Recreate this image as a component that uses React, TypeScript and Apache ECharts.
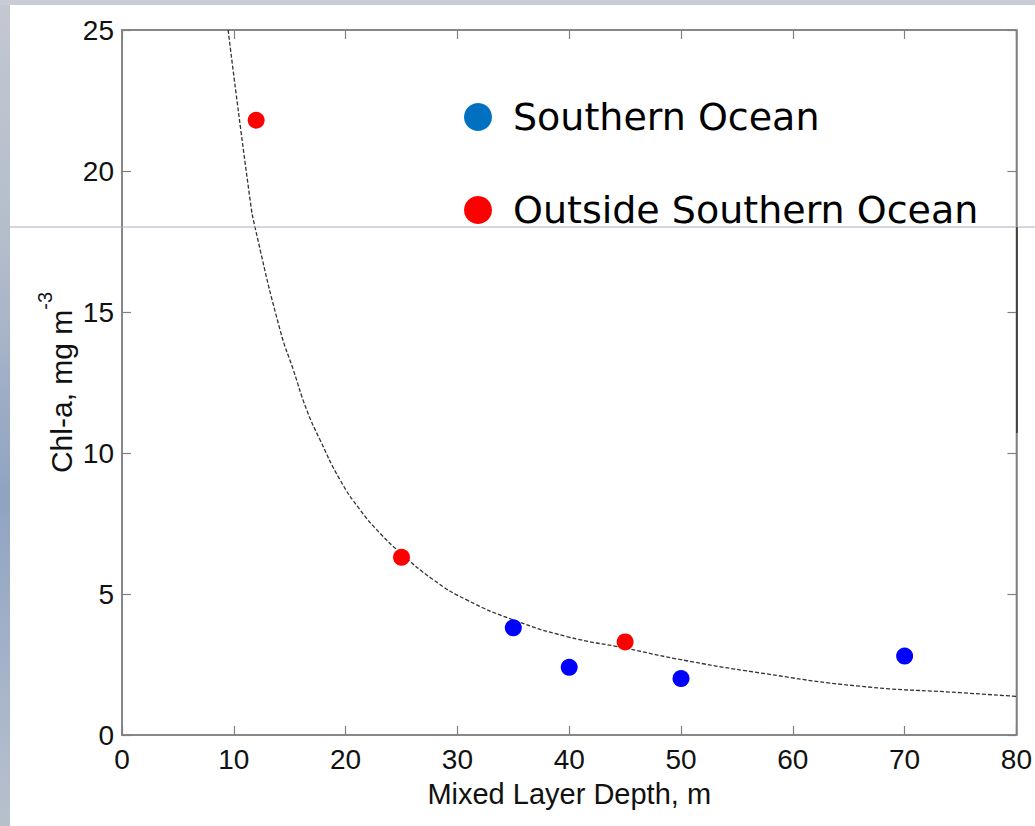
import React, { useEffect, useRef } from "react";
import * as echarts from "echarts";

const southernOcean: [number, number][] = [
  [35, 3.8],
  [40, 2.4],
  [50, 2.0],
  [70, 2.8],
];
const outsideSouthernOcean: [number, number][] = [
  [12, 21.8],
  [25, 6.3],
  [45, 3.3],
];
// fitted curve
const fitCurve: [number, number][] = [
  [9.49, 25],
  [11.45, 19.0],
  [11.9, 18.0],
  [14.14, 14.36],
  [15.33, 12.94],
  [16.53, 11.52],
  [17.72, 10.46],
  [19.51, 9.04],
  [21.3, 7.98],
  [23.09, 7.15],
  [24.88, 6.47],
  [27.86, 5.5],
  [30.84, 4.79],
  [35.02, 4.08],
  [39.79, 3.49],
  [45.16, 3.07],
  [49.6, 2.7],
  [57.1, 2.2],
  [66, 1.73],
  [75, 1.5],
  [80, 1.37],
];
const xTicks = [0, 80, 10];
const yTicks = [0, 25, 5];

export default function App() {
  const ref = useRef<HTMLDivElement>(null);
  useEffect(() => {
    if (!ref.current) return;
    const chart = echarts.init(ref.current, null, { renderer: "svg" });
    const axisColor = "#808080";
    const font = "'Liberation Sans', Arial, sans-serif";
    const commonAxis = {
      axisLine: { show: true, onZero: false, lineStyle: { color: axisColor, width: 1.5 } },
      axisTick: { show: true, inside: true, length: 9, lineStyle: { color: axisColor, width: 1.2 } },
      splitLine: { show: false },
    };
    chart.setOption({
      animation: false,
      backgroundColor: "#ffffff",
      grid: {
        left: 122,
        right: 18.5,
        top: 30,
        bottom: 91,
        show: true,
        borderColor: axisColor,
        borderWidth: 1.5,
        backgroundColor: "transparent",
      },
      legend: {
        orient: "vertical",
        left: 464,
        top: 98,
        padding: 0,
        itemWidth: 28,
        itemHeight: 28,
        itemGap: 55,
        icon: "circle",
        textStyle: {
          fontFamily: "'DejaVu Sans', sans-serif",
          fontSize: 38,
          color: "#000",
          padding: [0, 0, 0, 16],
        },
        data: [
          { name: "Southern Ocean", itemStyle: { color: "#0070c0" } },
          { name: "Outside Southern Ocean", itemStyle: { color: "#ff0000" } },
        ],
      },
      xAxis: [
        {
          type: "value",
          min: xTicks[0],
          max: xTicks[1],
          interval: xTicks[2],
          position: "bottom",
          ...commonAxis,
          axisLabel: { margin: 10, fontSize: 28, color: "#111", fontFamily: font },
          name: "Mixed Layer Depth, m",
          nameLocation: "middle",
          nameGap: 44,
          nameMoveOverlap: false,
          nameTextStyle: { fontSize: 29, color: "#111", fontFamily: font },
        },
        {
          type: "value",
          min: xTicks[0],
          max: xTicks[1],
          interval: xTicks[2],
          position: "top",
          ...commonAxis,
          axisLabel: { show: false },
        },
      ],
      yAxis: [
        {
          type: "value",
          min: yTicks[0],
          max: yTicks[1],
          interval: yTicks[2],
          position: "left",
          ...commonAxis,
          axisLabel: { margin: 8, fontSize: 28, color: "#111", fontFamily: font },
          name: "Chl-a, mg m{sup|-3}",
          nameLocation: "middle",
          nameGap: 35,
          nameMoveOverlap: false,
          nameTextStyle: {
            fontSize: 30,
            lineHeight: 52,
            color: "#111",
            fontFamily: font,
            rich: {
              sup: { fontSize: 20, lineHeight: 16, verticalAlign: "top", color: "#111", fontFamily: font },
            },
          },
        },
        {
          type: "value",
          min: yTicks[0],
          max: yTicks[1],
          interval: yTicks[2],
          position: "right",
          ...commonAxis,
          axisLabel: { show: false },
        },
      ],
      series: [
        {
          name: "fit",
          type: "line",
          data: fitCurve,
          smooth: 0.5,
          showSymbol: false,
          symbol: "none",
          lineStyle: { color: "#333", width: 1.3, type: [4, 2] },
          z: 2,
          silent: true,
        },
        {
          name: "fit-secondary-axes",
          type: "line",
          xAxisIndex: 1,
          yAxisIndex: 1,
          data: fitCurve,
          showSymbol: false,
          symbol: "none",
          lineStyle: { opacity: 0, width: 0 },
          silent: true,
          z: 0,
        },
        {
          name: "Southern Ocean",
          type: "scatter",
          data: southernOcean,
          symbolSize: 17,
          itemStyle: { color: "#0000ff", opacity: 1 },
          z: 3,
        },
        {
          name: "Outside Southern Ocean",
          type: "scatter",
          data: outsideSouthernOcean,
          symbolSize: 17,
          itemStyle: { color: "#ff0000", opacity: 1 },
          z: 3,
        },
      ],
      graphic: [
        {
          type: "rect",
          left: 0,
          top: 0,
          shape: { width: 10, height: 826 },
          style: {
            fill: new echarts.graphic.LinearGradient(0, 0, 0, 1, [
              { offset: 0, color: "#c3c8d1" },
              { offset: 0.3, color: "#b4bccb" },
              { offset: 0.6, color: "#8fa3c2" },
              { offset: 0.85, color: "#a9b6cb" },
              { offset: 1, color: "#b8c0cc" },
            ]),
          },
          z: 100,
        },
        {
          type: "rect",
          left: 0,
          top: 0,
          shape: { width: 1035, height: 5 },
          style: { fill: "#c8ccd5" },
          z: 100,
        },
        {
          type: "line",
          shape: { x1: 10, y1: 227, x2: 1035, y2: 227 },
          style: { stroke: "#a8b0bb", lineWidth: 1 },
          z: 100,
        },
        {
          type: "line",
          shape: { x1: 1017, y1: 227, x2: 1017, y2: 433 },
          style: { stroke: "#000", lineWidth: 1 },
          z: 100,
        },
      ],
    });
    return () => chart.dispose();
  }, []);
  return (
    <div
      ref={ref}
      style={{ position: "fixed", left: 0, top: 0, width: 1035, height: 826 }}
    />
  );
}
